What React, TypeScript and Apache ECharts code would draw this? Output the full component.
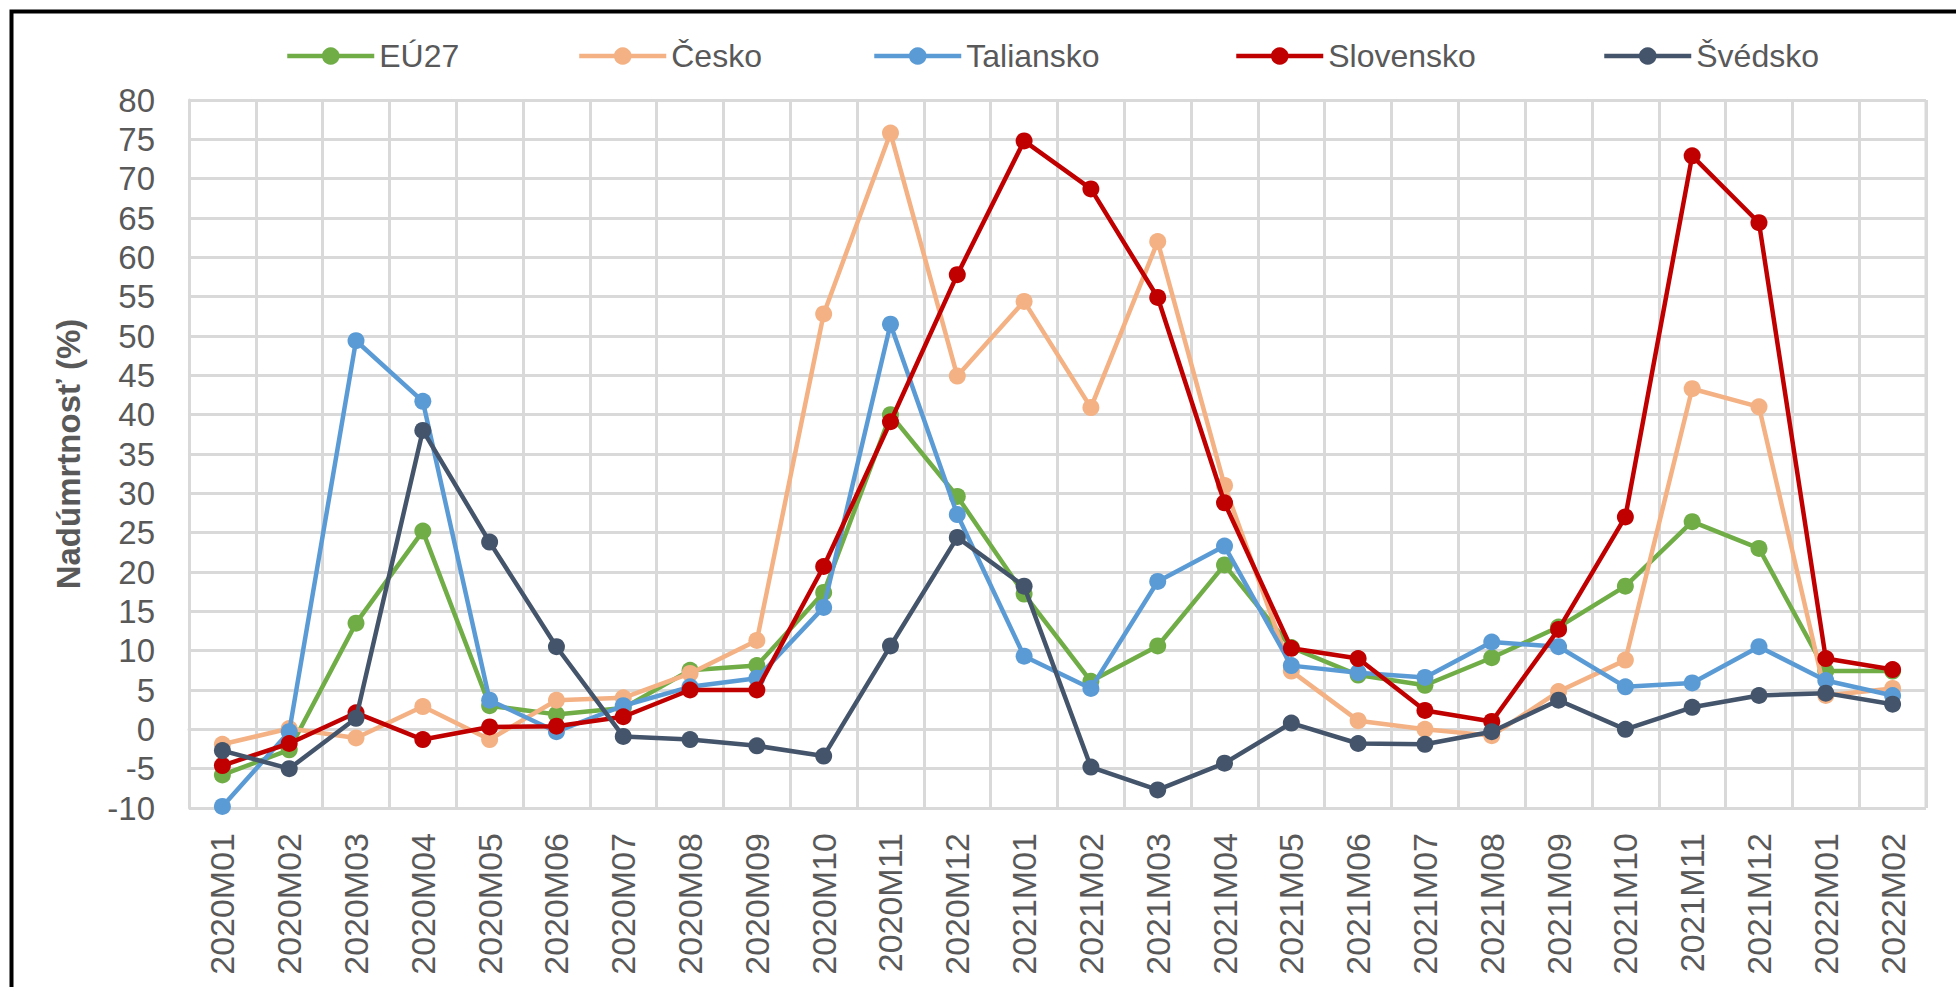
import React, { useEffect, useRef } from "react";
import * as echarts from "echarts";

const categories = [
  "2020M01", "2020M02", "2020M03", "2020M04", "2020M05", "2020M06", "2020M07", "2020M08", "2020M09", "2020M10", "2020M11", "2020M12",
  "2021M01", "2021M02", "2021M03", "2021M04", "2021M05", "2021M06", "2021M07", "2021M08", "2021M09", "2021M10", "2021M11", "2021M12",
  "2022M01", "2022M02",
];

const eu27 = [-5.8, -2.6, 13.5, 25.2, 3.0, 1.9, 2.7, 7.5, 8.1, 17.4, 40.0, 29.6, 17.2, 6.1, 10.6, 20.9, 10.4, 6.9, 5.6, 9.1, 13.0, 18.2, 26.4, 23.0, 7.4, 7.4];
const cesko = [-1.9, 0.1, -1.1, 2.9, -1.3, 3.7, 4.0, 7.1, 11.3, 52.8, 75.8, 44.9, 54.4, 40.9, 62.0, 31.0, 7.4, 1.1, 0.0, -0.8, 4.8, 8.8, 43.3, 41.0, 4.3, 5.2];
const taliansko = [-9.8, -0.3, 49.4, 41.7, 3.7, -0.3, 3.0, 5.4, 6.5, 15.5, 51.5, 27.3, 9.3, 5.2, 18.8, 23.3, 8.1, 7.2, 6.6, 11.1, 10.5, 5.4, 5.9, 10.5, 6.2, 4.3];
const slovensko = [-4.6, -1.8, 2.1, -1.3, 0.3, 0.4, 1.6, 5.0, 5.0, 20.7, 39.1, 57.8, 74.8, 68.7, 54.9, 28.8, 10.3, 9.0, 2.4, 1.0, 12.7, 27.0, 72.9, 64.4, 9.0, 7.6];
const svedsko = [-2.7, -5.0, 1.4, 38.0, 23.8, 10.5, -0.9, -1.3, -2.1, -3.4, 10.6, 24.4, 18.2, -4.8, -7.7, -4.3, 0.8, -1.8, -1.9, -0.3, 3.7, 0.0, 2.8, 4.3, 4.6, 3.2];

const seriesNames = ["EÚ27", "Česko", "Taliansko", "Slovensko", "Švédsko"];
const seriesData = [eu27, cesko, taliansko, slovensko, svedsko];
const seriesColors = ["#70AD47", "#F4B183", "#5B9BD5", "#C00000", "#44546A"];
const legendLefts = [280, 572, 867, 1229, 1597];

const yTitle = "Nadúmrtnosť (%)";
const FONT = "'Liberation Sans', Arial, sans-serif";
const TEXT = "#595959";
const GRID = "#D9D9D9";

export default function App() {
  const ref = useRef<HTMLDivElement>(null);
  useEffect(() => {
    if (!ref.current) return;
    const chart = echarts.init(ref.current, undefined, { renderer: "svg" });
    chart.setOption({
      animation: false,
      backgroundColor: "#ffffff",
      textStyle: { fontFamily: FONT },
      grid: { left: 189, right: 30, top: 100, bottom: 179, containLabel: false },
      legend: seriesNames.map((n, i) => ({
        data: [n],
        left: legendLefts[i],
        top: 34,
        itemWidth: 87,
        itemHeight: 22,
        lineStyle: { width: 4.5 },
        textStyle: { color: TEXT, fontSize: 32, fontFamily: FONT, lineHeight: 34 },
        selectedMode: false,
      })),
      xAxis: {
        type: "category",
        data: categories,
        boundaryGap: true,
        axisLine: { show: true, lineStyle: { color: GRID, width: 3 } },
        axisTick: { show: false },
        splitLine: { show: true, lineStyle: { color: GRID, width: 3 } },
        axisLabel: {
          rotate: 90,
          interval: 0,
          margin: 25,
          color: TEXT,
          fontSize: 34,
          fontFamily: FONT,
        },
      },
      yAxis: {
        type: "value",
        min: -10,
        max: 80,
        interval: 5,
        name: yTitle,
        nameLocation: "middle",
        nameRotate: 90,
        nameGap: 104,
        nameTextStyle: { color: TEXT, fontSize: 33, fontWeight: "bold", fontFamily: FONT },
        axisLine: { show: true, lineStyle: { color: GRID, width: 3 } },
        axisTick: { show: false },
        splitLine: { show: true, lineStyle: { color: GRID, width: 3 } },
        axisLabel: { color: TEXT, fontSize: 33, margin: 34, fontFamily: FONT },
      },
      graphic: [
        {
          type: "rect",
          shape: { x: 11.5, y: 11.5, width: 2100, height: 1100 },
          style: { fill: "none", stroke: "#000000", lineWidth: 4 },
          silent: true,
          z: 100,
        },
        {
          type: "line",
          shape: { x1: 1926, y1: 100, x2: 1926, y2: 808 },
          style: { stroke: GRID, lineWidth: 3 },
          silent: true,
          z: 1,
        },
      ],
      series: seriesNames.map((n, i) => ({
        name: n,
        type: "line",
        data: seriesData[i],
        color: seriesColors[i],
        symbol: "circle",
        symbolSize: 17,
        showSymbol: true,
        lineStyle: { width: 4.5, color: seriesColors[i] },
        itemStyle: { color: seriesColors[i] },
        z: 2 + i,
      })),
    });
    return () => chart.dispose();
  }, []);
  return (
    <div
      ref={ref}
      style={{ position: "absolute", left: 0, top: 0, width: 1956, height: 987, background: "#fff" }}
    />
  );
}
